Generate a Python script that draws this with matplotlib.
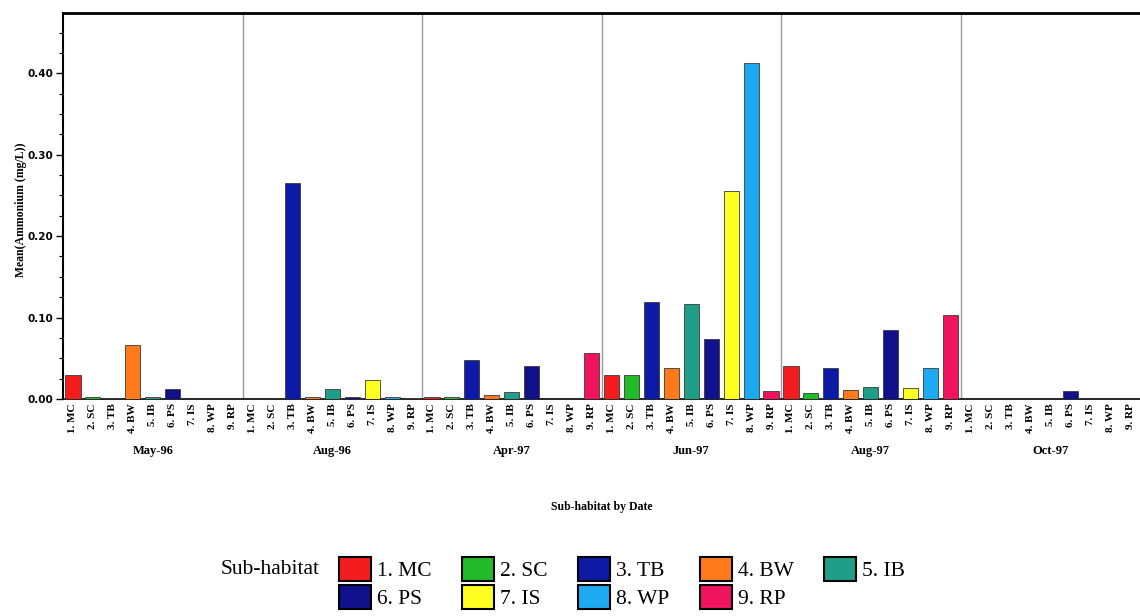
import numpy as np
import matplotlib
matplotlib.use("Agg")
import matplotlib.pyplot as plt
from matplotlib.patches import Patch
from matplotlib.ticker import MultipleLocator, FormatStrFormatter

# Sampling dates (one panel each) and sub-habitats
dates = ["May-96", "Aug-96", "Apr-97", "Jun-97", "Aug-97", "Oct-97"]
habitats = ["1. MC", "2. SC", "3. TB", "4. BW", "5. IB", "6. PS", "7. IS", "8. WP", "9. RP"]
colors = ["#f41d1d", "#22bb2a", "#0c1aa5", "#ff7a1a", "#1e9e86",
          "#10108a", "#ffff22", "#1eaaf2", "#f0145e"]

# Mean ammonium (mg/L) per sub-habitat; nan = no sample
nan = np.nan
may96 = [0.029, 0.003, 0.001, 0.066, 0.002, 0.012, nan, nan, nan]
aug96 = [nan, nan, 0.265, 0.003, 0.012, 0.003, 0.023, 0.002, 0.001]
apr97 = [0.003, 0.003, 0.048, 0.005, 0.008, 0.040, nan, nan, 0.056]
jun97 = [0.029, 0.030, 0.119, 0.038, 0.117, 0.074, 0.256, 0.412, 0.010]
aug97 = [0.041, 0.007, 0.038, 0.011, 0.015, 0.085, 0.013, 0.038, 0.103]
oct97 = [nan, nan, nan, nan, nan, 0.010, nan, nan, nan]
series = [may96, aug96, apr97, jun97, aug97, oct97]

serif = "Liberation Serif"
W, H = 1140, 616
fig = plt.figure(figsize=(W / 100, H / 100), dpi=100)
ax = fig.add_axes([63 / W, 1 - 399 / H, 1 - 63 / W, (399 - 13) / H])

n = len(habitats)
for p, vals in enumerate(series):
    for c, v in enumerate(vals):
        if np.isnan(v):
            continue
        ax.bar(p * n + c, v, width=0.76, color=colors[c],
               edgecolor="#3a3a3a", linewidth=0.6, zorder=3)

for p in range(1, len(dates)):
    ax.axvline(p * n - 0.5, color="#9a9a9a", linewidth=1.0, zorder=1)

ax.set_xlim(-0.5, len(dates) * n - 0.5)
ax.set_ylim(0, 0.474)

xpos = np.arange(len(dates) * n)
ax.set_xticks(xpos)
ax.set_xticklabels(habitats * len(dates), rotation=90, family=serif,
                   fontsize=8, fontweight="bold")
ax.tick_params(axis="x", length=0, pad=3)

ax.yaxis.set_major_locator(MultipleLocator(0.1))
ax.yaxis.set_minor_locator(MultipleLocator(0.025))
ax.yaxis.set_major_formatter(FormatStrFormatter("%.2f"))
ax.tick_params(axis="y", which="major", length=5, width=1, labelsize=7.5, pad=2)
ax.tick_params(axis="y", which="minor", length=3, width=0.8)
for lab in ax.get_yticklabels():
    lab.set_fontweight("bold")

ax.spines["right"].set_visible(False)
ax.spines["top"].set_linewidth(2.0)
ax.spines["left"].set_linewidth(1.5)
ax.spines["bottom"].set_linewidth(1.2)

for p, d in enumerate(dates):
    ax.text(p * n + (n - 1) / 2, -0.135, d, transform=ax.get_xaxis_transform(),
            ha="center", va="center", family=serif, fontsize=9, fontweight="bold")

ax.text(0.5, -0.280, "Sub-habitat by Date", transform=ax.transAxes,
        ha="center", va="center", family=serif, fontsize=8.5, fontweight="bold")
ax.set_ylabel("Mean(Ammonium (mg/L))", family=serif, fontsize=8.5, fontweight="bold")
ax.yaxis.set_label_coords(-0.033, 0.49)

# Legend laid out row-wise: 1-5 on the first row, 6-9 on the second
order = [0, 5, 1, 6, 2, 7, 3, 8, 4]
handles = [Patch(facecolor=colors[i], edgecolor="black", linewidth=1.5) for i in order]
labels = [habitats[i] for i in order]
fig.legend(handles, labels, ncol=5, loc="center",
           bbox_to_anchor=(622 / W, 1 - 583 / H), frameon=False,
           prop={"family": serif, "size": 15.5}, handlelength=1.49, handleheight=1.35,
           handletextpad=0.28, columnspacing=1.4, labelspacing=0.14, borderpad=0)
fig.text(221 / W, 1 - 570 / H, "Sub-habitat", ha="left", va="center",
         family=serif, fontsize=15.5)

fig.savefig("out.png", dpi=100)
